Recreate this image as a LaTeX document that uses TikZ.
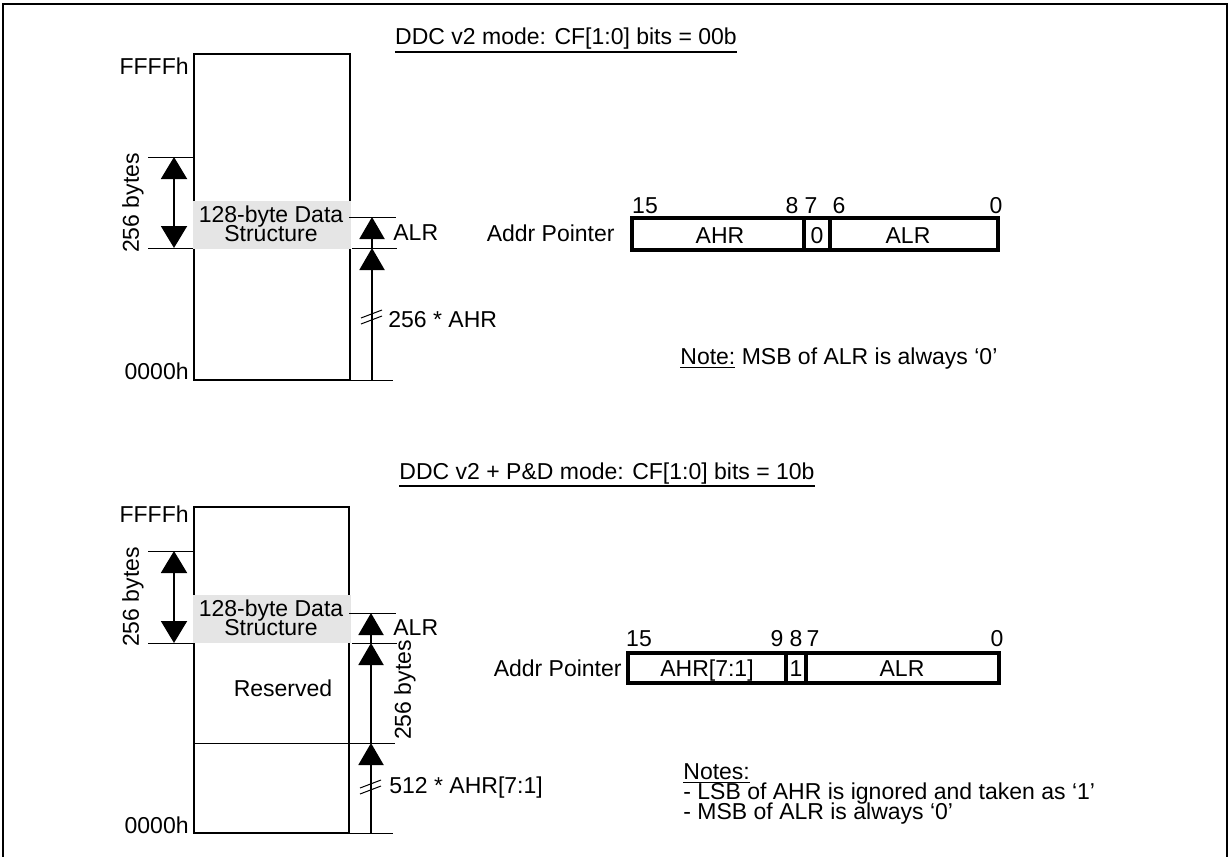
\documentclass[tikz,border=0pt]{standalone}
\usepackage{fontspec}
\setmainfont{Liberation Sans}
\usetikzlibrary{arrows.meta}
\definecolor{lightgray}{RGB}{229,229,229}
\begin{document}
\begin{tikzpicture}[x=0.5pt,y=-0.5pt,
  font=\fontsize{11.5}{13}\selectfont,
  thinline/.style={line width=0.5pt},
  membox/.style={draw, line width=1.2pt},
  regbox/.style={draw, line width=1.8pt},
  uparrow/.style={line width=1pt, -{Triangle[width=12.5pt,length=11pt]}},
  dblarrow/.style={line width=1pt, {Triangle[width=13pt,length=11pt]}-{Triangle[width=13pt,length=11pt]}},
  txt/.style={inner sep=0pt, anchor=base},
  txtl/.style={inner sep=0pt, anchor=base west},
  txtr/.style={inner sep=0pt, anchor=base east},
  grayfill/.style={fill=lightgray},
  titleline/.style={line width=1.3pt}]
\useasboundingbox (0,0) rectangle (1229,856);
% outer frame
\draw[line width=1pt] (3,857) -- (3,4) -- (1227,4) -- (1227,857);

% ================= TOP PANEL =================
\node[txt] (title1) at (566,45) {DDC v2 mode: CF[1:0] bits = 00b};
\draw[titleline] ([yshift=-3.5pt]title1.base west) -- ([yshift=-3.5pt]title1.base east);

\draw[membox] (194,54) rectangle (350,380);
\node[txtr] (ffff1) at (189,75) {FFFFh};
\node[txtr] (zero1) at (189,379) {0000h};

% 256 bytes left dimension
\coordinate (lt1a) at (148,157); \coordinate (lt1b) at (194,157);
\coordinate (lb1a) at (148,248); \coordinate (lb1b) at (194,248);
\draw[thinline] (lt1a) -- (lt1b);
\draw[thinline] (lb1a) -- (lb1b);
\coordinate (da1) at (174,157); \coordinate (db1) at (174,248);
\draw[dblarrow] (da1) -- (db1);
\node[rotate=90, inner sep=0pt] (bytes1) at (133,203) {256 bytes};

% data structure
\fill[grayfill] (193,201) rectangle (351,249);
\node[txt] (ds1a) at (271,222) {128-byte Data};
\node[txt] (ds1b) at (271,241) {Structure};

% right side
\coordinate (ra1a) at (349,217); \coordinate (ra1b) at (396,217);
\coordinate (rb1a) at (352,248); \coordinate (rb1b) at (397,248);
\coordinate (rc1a) at (350,380); \coordinate (rc1b) at (393,380);
\draw[thinline] (ra1a) -- (ra1b);
\draw[thinline] (rb1a) -- (rb1b);
\draw[thinline] (rc1a) -- (rc1b);
\coordinate (p1bot) at (372,380);
\coordinate (p1mid) at (372,248);
\coordinate (p1top) at (372,217);
\draw[uparrow] (p1bot) -- (p1mid);
\draw[uparrow] (p1mid) -- (p1top);
\draw[thinline] (361,318) -- (382,310);
\draw[thinline] (361,324) -- (382,316);
\node[txtl] (alr1) at (393,240) {ALR};
\node[txtl] (ahr1) at (388,327) {256 * AHR};

% register
\node[txtr] (ap1) at (615,241) {Addr Pointer};
\draw[regbox] (632,218) rectangle (998,250);
\draw[regbox] (804,218) rectangle (830,250);
\node[txt] (b15a) at (645,213) {15};
\node[txt] (b8a) at (792,213) {8};
\node[txt] (b7a) at (811,213) {7};
\node[txt] (b6a) at (839,213) {6};
\node[txt] (b0a) at (996,213) {0};
\node[txt] (rahr1) at (720,243) {AHR};
\node[txt] (rz1) at (817,243) {0};
\node[txt] (ralr1) at (908,243) {ALR};

\node[txtl] (note1) at (680,364) {\underline{Note:} MSB of ALR is always ‘0’};

% ================= BOTTOM PANEL =================
\node[txt] (title2) at (607,479) {DDC v2 + P\&D mode: CF[1:0] bits = 10b};
\draw[titleline] ([yshift=-3.5pt]title2.base west) -- ([yshift=-3.5pt]title2.base east);

\draw[membox] (194,507) rectangle (349,833);
\node[txtr] (ffff2) at (189,522) {FFFFh};
\node[txtr] (zero2) at (189,833) {0000h};

\coordinate (lt2a) at (148,551); \coordinate (lt2b) at (194,551);
\coordinate (lb2a) at (148,643); \coordinate (lb2b) at (194,643);
\draw[thinline] (lt2a) -- (lt2b);
\draw[thinline] (lb2a) -- (lb2b);
\coordinate (da2) at (174,551); \coordinate (db2) at (174,643);
\draw[dblarrow] (da2) -- (db2);
\node[rotate=90, inner sep=0pt] (bytes2) at (133,597) {256 bytes};

\fill[grayfill] (193,595) rectangle (351,643);
\node[txt] (ds2a) at (271,616) {128-byte Data};
\node[txt] (ds2b) at (271,635) {Structure};

\node[txt] (res) at (283,696) {Reserved};

\coordinate (rs2a) at (194,743); \coordinate (rs2b) at (395,743);
\draw[thinline] (rs2a) -- (rs2b);
\coordinate (ra2a) at (349,613); \coordinate (ra2b) at (396,613);
\coordinate (rb2a) at (352,643); \coordinate (rb2b) at (397,643);
\coordinate (rc2a) at (349,833); \coordinate (rc2b) at (393,833);
\draw[thinline] (ra2a) -- (ra2b);
\draw[thinline] (rb2a) -- (rb2b);
\draw[thinline] (rc2a) -- (rc2b);
\coordinate (p2bot) at (371,833);
\coordinate (p2res) at (371,743);
\coordinate (p2mid) at (371,643);
\coordinate (p2top) at (371,613);
\draw[uparrow] (p2bot) -- (p2res);
\draw[uparrow] (p2res) -- (p2mid);
\draw[uparrow] (p2mid) -- (p2top);
\draw[thinline] (360,788) -- (381,780);
\draw[thinline] (360,794) -- (381,786);
\node[txtl] (alr2) at (393,635) {ALR};
\node[txtl] (ahr2) at (389,793) {512 * AHR[7:1]};
\node[rotate=90, inner sep=0pt] (bytes3) at (405,690) {256 bytes};

\node[txtr] (ap2) at (622,676) {Addr Pointer};
\draw[regbox] (628,653) rectangle (999,683);
\draw[regbox] (786,653) rectangle (806,683);
\node[txt] (b15b) at (639,646) {15};
\node[txt] (b9b) at (777,646) {9};
\node[txt] (b8b) at (796,646) {8};
\node[txt] (b7b) at (813,646) {7};
\node[txt] (b0b) at (997,646) {0};
\node[txt] (rahr2) at (707,676) {AHR[7:1]};
\node[txt] (r12) at (796,676) {1};
\node[txt] (ralr2) at (902,676) {ALR};

\node[txtl] (notes2) at (683,779) {\underline{Notes:}};
\node[txtl] (n2l1) at (683,799) {- LSB of AHR is ignored and taken as ‘1’};
\node[txtl] (n2l2) at (683,819) {- MSB of ALR is always ‘0’};
\end{tikzpicture}
\end{document}
